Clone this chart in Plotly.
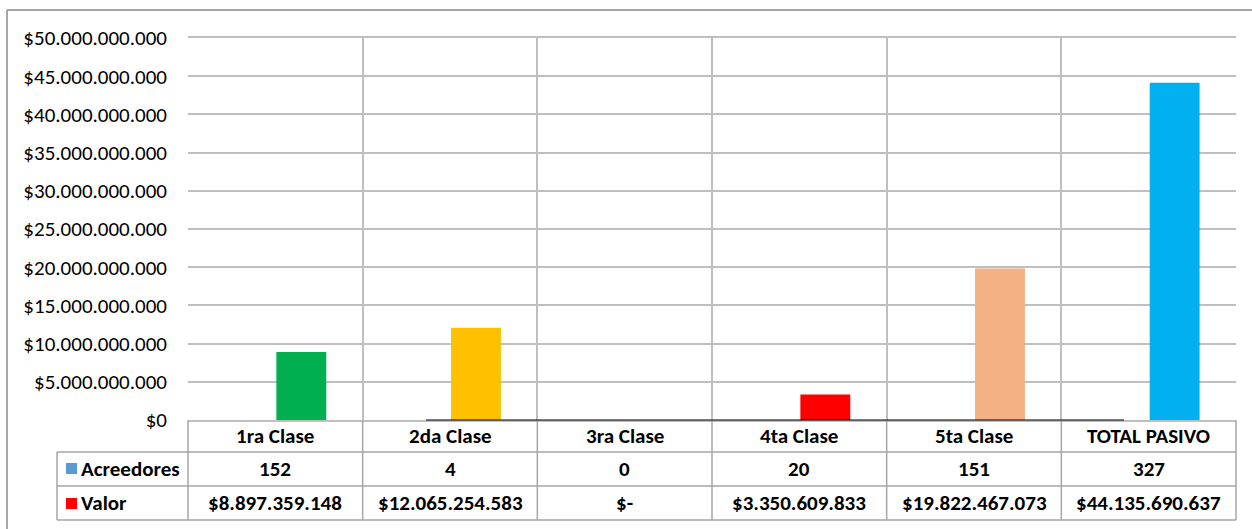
import plotly.graph_objects as go

categories = ["1ra Clase", "2da Clase", "3ra Clase", "4ta Clase", "5ta Clase", "TOTAL PASIVO"]
acreedores = [152, 4, 0, 20, 151, 327]
valor = [8897359148, 12065254583, 0, 3350609833, 19822467073, 44135690637]
bar_colors = ["#00B050", "#FFC000", "#FF0000", "#FF0000", "#F4B183", "#00B0F0"]

W, H = 1252, 529
FONT = "Carlito, Calibri, Lato, Liberation Sans, sans-serif"
GRID = "#BFBFBF"
FS = 21


def py(y):
    return 1 - y / H


def px(x):
    return x / W


def fmt_money(v):
    if v == 0:
        return "$-"
    return "$" + f"{v:,}".replace(",", ".")


X0, X1 = 188, 1236
Y_TOP, Y_ZERO = 38, 420
ROW1, ROW2, ROW3 = 452, 486, 520
TABLE_LEFT = 57

fig = go.Figure()
fig.add_trace(go.Bar(x=categories, y=acreedores, name="Acreedores",
                     marker=dict(color="#5B9BD5", line=dict(width=0))))
fig.add_trace(go.Bar(x=categories, y=valor, name="Valor",
                     marker=dict(color=bar_colors, line=dict(width=0))))

shapes = []
shapes.append(dict(type="line", xref="paper", yref="paper", x0=px(7), x1=1.01, y0=py(10), y1=py(10),
                   line=dict(color="#A6A6A6", width=2)))
shapes.append(dict(type="line", xref="paper", yref="paper", x0=px(7), x1=px(7), y0=py(10), y1=-0.01,
                   line=dict(color="#A6A6A6", width=2)))
for yy in (ROW1, ROW2, ROW3):
    shapes.append(dict(type="line", xref="paper", yref="paper", x0=px(TABLE_LEFT), x1=px(X1),
                       y0=py(yy), y1=py(yy), line=dict(color="#A6A6A6", width=1.5)))
cat_w = (X1 - X0) / len(categories)
for i in range(len(categories) + 1):
    xx = X0 + i * cat_w
    shapes.append(dict(type="line", xref="paper", yref="paper", x0=px(xx), x1=px(xx),
                       y0=py(Y_ZERO), y1=py(ROW3), line=dict(color="#A6A6A6", width=1.5)))
shapes.append(dict(type="line", xref="paper", yref="paper", x0=px(TABLE_LEFT), x1=px(TABLE_LEFT),
                   y0=py(ROW1), y1=py(ROW3), line=dict(color="#A6A6A6", width=1.5)))
shapes.append(dict(type="line", xref="paper", yref="paper", x0=px(426), x1=px(1124),
                   y0=py(Y_ZERO), y1=py(Y_ZERO), line=dict(color="#000000", width=1.2)))
shapes.append(dict(type="rect", xref="paper", yref="paper", x0=px(66), x1=px(77), y0=py(474), y1=py(463),
                   fillcolor="#5B9BD5", line=dict(width=0)))
shapes.append(dict(type="rect", xref="paper", yref="paper", x0=px(66), x1=px(77), y0=py(509), y1=py(498),
                   fillcolor="#FF0000", line=dict(width=0)))

annotations = []
tfont = dict(family=FONT, size=FS, color="#000000")
for i, c in enumerate(categories):
    annotations.append(dict(x=c, xref="x", y=py((Y_ZERO + ROW1) / 2), yref="paper",
                            text=f"<b>{c}</b>", showarrow=False, font=tfont, xanchor="center", yanchor="middle"))
    annotations.append(dict(x=c, xref="x", y=py((ROW1 + ROW2) / 2), yref="paper",
                            text=f"<b>{acreedores[i]}</b>", showarrow=False, font=tfont,
                            xanchor="center", yanchor="middle"))
    annotations.append(dict(x=c, xref="x", y=py((ROW2 + ROW3) / 2), yref="paper",
                            text=f"<b>{fmt_money(valor[i])}</b>", showarrow=False, font=tfont,
                            xanchor="center", yanchor="middle"))
annotations.append(dict(x=px(79), xref="paper", y=py((ROW1 + ROW2) / 2), yref="paper",
                        text="<b>Acreedores</b>", showarrow=False, font=tfont, xanchor="left", yanchor="middle"))
annotations.append(dict(x=px(79), xref="paper", y=py((ROW2 + ROW3) / 2), yref="paper",
                        text="<b>Valor</b>", showarrow=False, font=tfont, xanchor="left", yanchor="middle"))

fig.update_layout(
    template="none",
    width=W, height=H,
    margin=dict(l=0, r=0, t=0, b=0, autoexpand=False),
    paper_bgcolor="white", plot_bgcolor="white",
    separators=",.",
    barmode="group", bargap=0.405, bargroupgap=0.04,
    showlegend=False,
    font=dict(family=FONT, size=FS, color="#000000"),
    xaxis=dict(domain=[px(X0), px(X1)], type="category", range=[-0.5, 5.5], automargin=False,
               showticklabels=False, ticks="", showgrid=True, tickson="boundaries",
               gridcolor=GRID, gridwidth=1.5, showline=True, linecolor=GRID, linewidth=1.5,
               mirror=True, zeroline=False),
    yaxis=dict(domain=[py(Y_ZERO), py(Y_TOP)], range=[0, 50e9], dtick=5e9, automargin=False,
               tickprefix="$", tickformat=",d", showgrid=True, gridcolor=GRID, gridwidth=1.5,
               zeroline=False, showline=False, ticks="", ticklabelstandoff=20,
               tickfont=dict(family=FONT, size=FS, color="#000000")),
    shapes=shapes, annotations=annotations,
)

fig.write_html("out.html", config={"displayModeBar": False},
               post_script="document.body.style.margin='0';document.documentElement.style.overflow='hidden';")
